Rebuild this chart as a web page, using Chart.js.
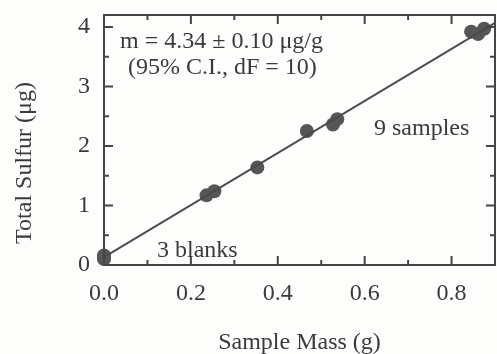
<!DOCTYPE html>
<html>
<head>
<meta charset="utf-8">
<script src="https://cdn.jsdelivr.net/npm/chart.js@4"></script>
<style>
  html, body { margin: 0; padding: 0; background: #fdfdfb; }
  #wrap { width: 497px; height: 354px; }
</style>
</head>
<body>
<div id="wrap"><canvas id="sulfurChart" width="497" height="354"></canvas></div>
<script>
// values
const blankMass = [0, 0, 0];
const blankSulfur = [0.10, 0.13, 0.16];
const sampleMass = [0.236, 0.254, 0.353, 0.467, 0.527, 0.537, 0.845, 0.861, 0.875];
const sampleSulfur = [1.17, 1.24, 1.64, 2.25, 2.36, 2.45, 3.92, 3.88, 3.97];
const fitMass = [0, 0.9];
const fitSulfur = [0.13, 4.07];

const xTicks = [0.0, 0.2, 0.4, 0.6, 0.8];
const xMinor = [0.1, 0.3, 0.5, 0.7];
const yTicks = [0, 1, 2, 3, 4];
const yMinor = [0.5, 1.5, 2.5, 3.5];

const ink = '#3a3a3a';
const serif = "'Liberation Serif', 'Times New Roman', serif";

const pts = (xs, ys) => xs.map((x, i) => ({ x: x, y: ys[i] }));

const frameAndText = {
    id: 'frameAndText',
    afterDraw(chart) {
        const { ctx, chartArea: a, scales } = chart;
        const xs = scales.x, ys = scales.y;
        ctx.save();
        ctx.strokeStyle = '#454545';
        ctx.lineWidth = 2;
        ctx.strokeRect(a.left, a.top, a.right - a.left, a.bottom - a.top);

        ctx.beginPath();
        const tickX = (vals, len) => vals.forEach(v => {
            const px = xs.getPixelForValue(v);
            ctx.moveTo(px, a.bottom); ctx.lineTo(px, a.bottom - len);
            ctx.moveTo(px, a.top); ctx.lineTo(px, a.top + len);
        });
        const tickY = (vals, len) => vals.forEach(v => {
            const py = ys.getPixelForValue(v);
            ctx.moveTo(a.left, py); ctx.lineTo(a.left + len, py);
            ctx.moveTo(a.right, py); ctx.lineTo(a.right - len, py);
        });
        tickX(xTicks, 9); tickX(xMinor, 5);
        tickY(yTicks, 9); tickY(yMinor, 5);
        ctx.stroke();

        ctx.fillStyle = ink;
        ctx.font = '24px ' + serif;
        ctx.textBaseline = 'alphabetic';
        ctx.textAlign = 'left';
        ctx.fillText('m = 4.34 \u00b1 0.10 \u03bcg/g', a.left + 16, 48);
        ctx.fillText('(95% C.I., dF = 10)', a.left + 24, 74);
        ctx.fillText('9 samples', 374, 135);
        ctx.fillText('3 blanks', 157, 257);

        ctx.textAlign = 'center';
        ctx.fillText('Sample Mass (g)', (a.left + a.right) / 2, 349);
        ctx.translate(25, 163);
        ctx.rotate(-Math.PI / 2);
        ctx.textBaseline = 'middle';
        ctx.fillText('Total Sulfur (\u03bcg)', 0, 0);
        ctx.restore();
    }
};

new Chart(document.getElementById('sulfurChart').getContext('2d'), {
    type: 'scatter',
    data: {
        datasets: [
            {
                type: 'line',
                data: pts(fitMass, fitSulfur),
                borderColor: '#4a4a4a',
                borderWidth: 2,
                pointRadius: 0,
                fill: false
            },
            {
                data: pts(blankMass, blankSulfur).concat(pts(sampleMass, sampleSulfur)),
                backgroundColor: '#565656',
                borderColor: '#565656',
                pointRadius: 7,
                borderWidth: 0,
                clip: false
            }
        ]
    },
    options: {
        responsive: false,
        animation: false,
        layout: { autoPadding: false, padding: { top: 15, right: 2, left: 0, bottom: 0 } },
        plugins: { legend: { display: false }, tooltip: { enabled: false } },
        scales: {
            x: {
                type: 'linear',
                min: 0,
                max: 0.9,
                afterBuildTicks: s => { s.ticks = xTicks.map(v => ({ value: v })); },
                afterFit: s => { s.height = 89; s.paddingLeft = 0; s.paddingRight = 0; },
                grid: { display: false, drawTicks: false },
                border: { display: false },
                ticks: {
                    color: ink,
                    font: { family: serif, size: 24 },
                    padding: 14,
                    maxRotation: 0,
                    callback: v => v.toFixed(1)
                }
            },
            y: {
                type: 'linear',
                min: 0,
                max: 4.2,
                afterBuildTicks: s => { s.ticks = yTicks.map(v => ({ value: v })); },
                afterFit: s => { s.width = 104; s.paddingTop = 0; s.paddingBottom = 0; },
                grid: { display: false, drawTicks: false },
                border: { display: false },
                ticks: {
                    color: ink,
                    font: { family: serif, size: 24 },
                    padding: 14
                }
            }
        }
    },
    plugins: [frameAndText]
});
</script>
</body>
</html>
